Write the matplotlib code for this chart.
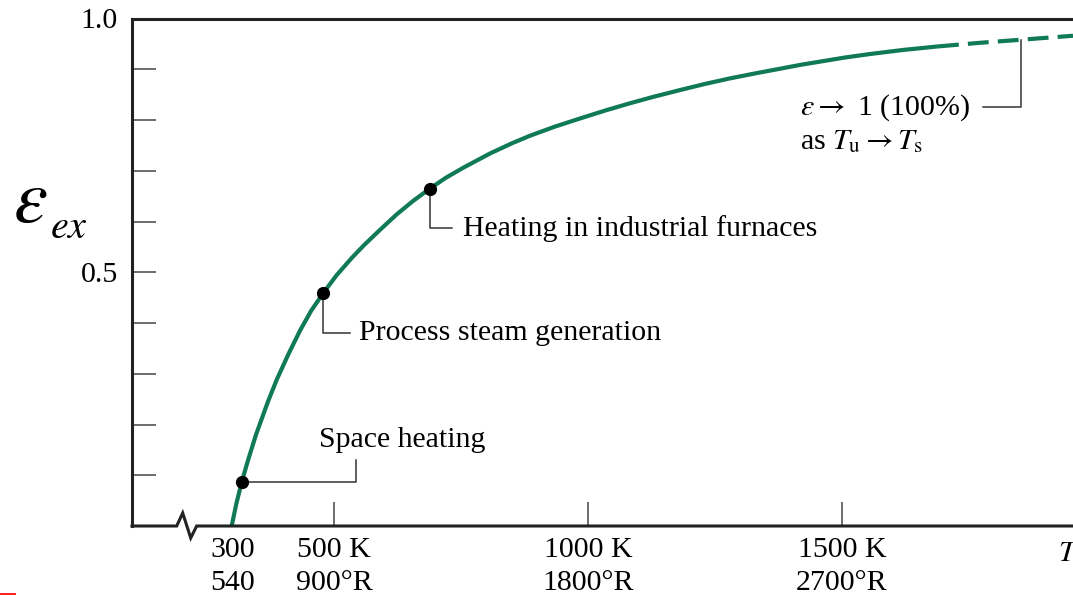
import matplotlib
matplotlib.use("Agg")
import matplotlib.pyplot as plt
from matplotlib.patches import Rectangle

plt.rcParams['font.family'] = ['Liberation Serif', 'DejaVu Serif']
plt.rcParams['mathtext.fontset'] = 'stix'

# ---- data ----
# solid part of the curve: use temperature T_u (K) vs exergy efficiency
T_solid = [298.6, 308.0, 318.3, 330.0, 346.5, 370.0, 387.2, 410.0, 433.1, 455.0,
           478.9, 505.0, 534.8, 557.7, 590.0, 623.4, 655.0, 689.0, 720.0, 754.5,
           807.1, 850.0, 885.8, 935.0, 984.3, 1035.0, 1082.7, 1130.0, 1181.1,
           1230.0, 1279.5, 1330.0, 1377.9, 1420.0, 1456.7, 1505.0, 1555.1,
           1620.0, 1689.0]
eff_solid = [0.000, 0.045, 0.086, 0.127, 0.180, 0.245, 0.288, 0.338, 0.385, 0.424,
             0.459, 0.494, 0.528, 0.552, 0.583, 0.614, 0.640, 0.665, 0.686, 0.706,
             0.734, 0.754, 0.769, 0.787, 0.803, 0.819, 0.833, 0.846, 0.859,
             0.871, 0.882, 0.892, 0.901, 0.909, 0.915, 0.923, 0.930,
             0.938, 0.945]
# dashed extrapolation
T_dash = [1689.0, 1770.0, 1850.4, 1954.7]
eff_dash = [0.945, 0.952, 0.958, 0.966]

# highlighted applications
app_names = ['Space heating', 'Process steam generation', 'Heating in industrial furnaces']
app_T = [318.3, 478.9, 689.0]
app_eff = [0.086, 0.459, 0.665]

# axis ticks
x_ticks = [300, 500, 1000, 1500]
x_labels = ['300\n540', '500 K\n900°R', '1000 K\n1800°R', '1500 K\n2700°R']
y_major = [0.5, 1.0]
y_major_labels = ['0.5', '1.0']
y_minor = [0.1, 0.2, 0.3, 0.4, 0.6, 0.7, 0.8, 0.9]

green = '#107a56'
dark = '#222222'
fs = 21.5

fig = plt.figure(figsize=(10.73, 5.95), dpi=100)
ax = fig.add_axes([132 / 1073, 69 / 595, 1 - 132 / 1073, 507.5 / 595])
ax.set_xlim(102.4, 1954.7)
ax.set_ylim(0, 1)

ax.plot(T_solid, eff_solid, color=green, lw=3.0, solid_capstyle='butt',
        solid_joinstyle='round', zorder=3)
ax.plot(T_dash, eff_dash, color=green, lw=3.0, dashes=(5, 2.2), zorder=3)
ax.plot(app_T, app_eff, 'o', color='black', ms=8.5, zorder=4)

# spines
for s in ['right', 'bottom']:
    ax.spines[s].set_visible(False)
for s in ['left', 'top']:
    ax.spines[s].set_linewidth(2.2)
    ax.spines[s].set_color(dark)

# bottom axis with break symbol
bx = [102.4, 190.4, 202.2, 218.0, 229.7, 1954.7]
by = [0, 0, 0.0256, -0.0236, 0, 0]
ax.plot(bx, by, color=dark, lw=2.2, clip_on=False, zorder=5, solid_joinstyle='miter')

# ticks
ax.set_xticks(x_ticks)
ax.set_xticklabels(x_labels, fontsize=fs, linespacing=1.36)
ax.tick_params(axis='x', direction='in', length=17, width=1.1, color='#444444', pad=8)
ax.xaxis.get_major_ticks()[0].tick1line.set_visible(False)

ax.set_yticks(y_major)
ax.set_yticklabels(y_major_labels, fontsize=fs)
ax.set_yticks(y_minor, minor=True)
ax.tick_params(axis='y', which='both', direction='in', length=17, width=1.1,
               color='#444444', pad=10)

# y label (epsilon with subscript ex)
fig.text(13 / 1073, 1 - 222 / 595, r'$\varepsilon$', fontsize=55,
         ha='left', va='baseline')
fig.text(50 / 1073, 1 - 238 / 595, r'$ex$', fontsize=29,
         ha='left', va='baseline')

# T_u label at the cropped right edge
ax.text(1925, -0.028, r'$T_\mathrm{u}$', fontsize=fs, ha='left', va='top',
        clip_on=False)

# annotations (leader lines)
lc = '#333333'
lw_l = 1.1
# space heating
ax.plot([app_T[0], 543.3, 543.3], [app_eff[0], app_eff[0], 0.130], color=lc, lw=lw_l, zorder=2)
ax.text(470.5, 0.169, app_names[0], fontsize=fs, ha='left', va='center')
# process steam
ax.plot([app_T[1], app_T[1], 531.5], [app_eff[1], 0.381, 0.381], color=lc, lw=lw_l, zorder=2)
ax.text(549.2, 0.381, app_names[1], fontsize=fs, ha='left', va='center')
# furnaces
ax.plot([app_T[2], app_T[2], 731.7], [app_eff[2], 0.587, 0.587], color=lc, lw=lw_l, zorder=2)
ax.text(753.9, 0.587, app_names[2], fontsize=fs, ha='left', va='center')
# limit
ax.plot([1851.8, 1851.8, 1777.0], [eff_dash[2], 0.825, 0.825], color=lc, lw=lw_l, zorder=2)
ax.text(1417.3, 0.825, r'$\epsilon \rightarrow$ 1 (100%)', fontsize=fs, ha='left', va='center')
ax.text(1417.3, 0.757, r'as $T_\mathrm{u} \rightarrow T_\mathrm{s}$', fontsize=fs,
        ha='left', va='center')

# small red crop mark at bottom-left corner
fig.add_artist(Rectangle((0, 0), 16 / 1073, 2.5 / 595, transform=fig.transFigure,
                         color='#ff2020', lw=0))

fig.savefig('out.png', dpi=100)
